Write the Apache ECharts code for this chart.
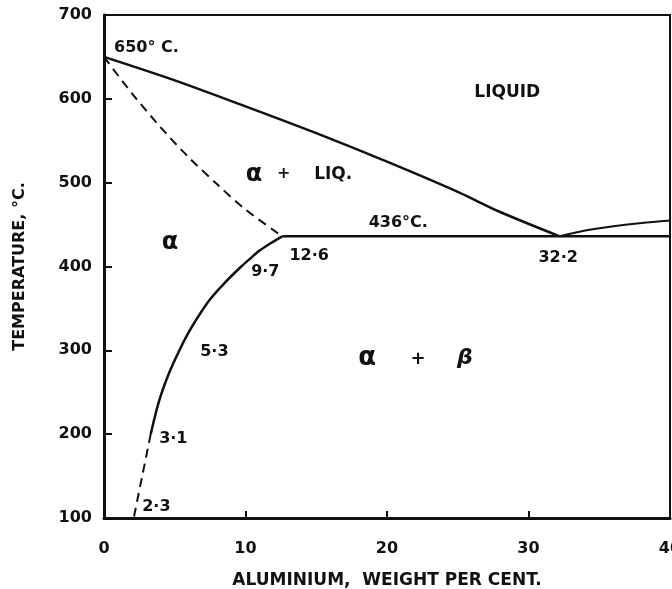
<!DOCTYPE html>
<html><head><meta charset="utf-8">
<script src="https://cdn.jsdelivr.net/npm/echarts@6/dist/echarts.min.js"></script>
<style>html,body{margin:0;padding:0;background:#fff}#c{width:672px;height:589px}</style>
</head><body><div id="c"></div>
<script>
// Phase boundaries (Al wt%, Temperature °C)
const liquidus = [[0,650],[5,622],[10,591],[15,559],[20,525],[25,489],[28,465],[32.2,436]];
const liquidusRight = [[32.2,436],[34,443],[36,448],[38,452],[40,455]];
const eutecticLine = [[12.6,436],[40,436]];
const solidusDashed = [[0,650],[2,606],[4,566],[6,530],[8,498],[10,468],[12.6,436]];
const solvusSolid = [[12.6,436],[11.8,428],[11,419],[10.3,409],[9.7,400],[8.5,380],[7.5,361],[6.8,344],[6,322],[5.3,299],[4.6,273],[3.9,240],[3.3,200]];
const solvusDashed = [[3.3,200],[2.7,150],[2.1,100]];
const xTicks = [0,10,20,30,40];
const yTicks = [100,200,300,400,500,600,700];
// annotations: [x, y, text, fontSize, italic]
const notes = [
  [3.0,661,'650° C.',16],[28.5,608,'LIQUID',17],
  [10.6,509,'α',24],[12.7,510,'+',16],[16.2,510,'LIQ.',17],
  [4.66,428,'α',24],
  [20.8,452,'436°C.',16],[11.4,394,'9·7',16],[14.5,413,'12·6',16],[32.1,410,'32·2',16],
  [7.8,298,'5·3',16],[4.9,195,'3·1',16],[3.7,113,'2·3',16],
  [18.6,290,'α',26],[22.2,289,'+',18],[25.5,290,'β',22,true]
];
const FONT = 'DejaVu Sans';
const INK = '#111';
const chart = echarts.init(document.getElementById('c'), null, {renderer:'canvas'});
function line(data, dashed, w){
  return {type:'line', data, showSymbol:false, smooth:0.3, silent:true,
    lineStyle:{color:INK, width:w||2.5, type: dashed?[9,6]:'solid'}, z:3};
}
chart.setOption({
  animation:false,
  grid:{left:104,right:2,top:15,bottom:71,outerBoundsMode:'none',containLabel:false,
    show:true,borderColor:INK,borderWidth:2,backgroundColor:'transparent'},
  xAxis:{type:'value',min:xTicks[0],max:xTicks[xTicks.length-1],interval:10,
    axisLine:{lineStyle:{color:INK,width:3}},
    axisTick:{inside:true,length:7,lineStyle:{color:INK,width:2}},
    splitLine:{show:false},
    axisLabel:{color:INK,fontFamily:FONT,fontWeight:'bold',fontSize:16,margin:23},
    name:'ALUMINIUM,  WEIGHT PER CENT.',nameLocation:'middle',nameGap:54,
    nameTextStyle:{color:INK,fontFamily:FONT,fontWeight:'bold',fontSize:17}},
  yAxis:{type:'value',min:yTicks[0],max:yTicks[yTicks.length-1],interval:100,
    axisLine:{lineStyle:{color:INK,width:3}},
    axisTick:{inside:true,length:8,lineStyle:{color:INK,width:2}},
    splitLine:{show:false},
    axisLabel:{color:INK,fontFamily:FONT,fontWeight:'bold',fontSize:16,margin:12},
    name:'TEMPERATURE, °C.',nameLocation:'middle',nameGap:76,nameRotate:90,
    nameTextStyle:{color:INK,fontFamily:FONT,fontWeight:'bold',fontSize:16}},
  series:[
    line(liquidus,false,2.5),
    line(liquidusRight,false,2),
    {type:'line',data:eutecticLine,showSymbol:false,silent:true,lineStyle:{color:INK,width:2.5},z:3},
    line(solidusDashed,true,2),
    line(solvusSolid,false,2.5),
    line(solvusDashed,true,2),
    {type:'scatter',symbolSize:0,silent:true,z:5,itemStyle:{color:INK,opacity:1},
      data:notes.map(n=>({value:[n[0],n[1]],name:n[2],
        label:{fontSize:n[3],fontStyle:n[4]?'italic':'normal',color:INK}})),
      label:{show:true,position:'inside',formatter:p=>p.name,color:INK,opacity:1,
        fontFamily:FONT,fontWeight:'bold',fontSize:16}}
  ]
});
</script></body></html>
